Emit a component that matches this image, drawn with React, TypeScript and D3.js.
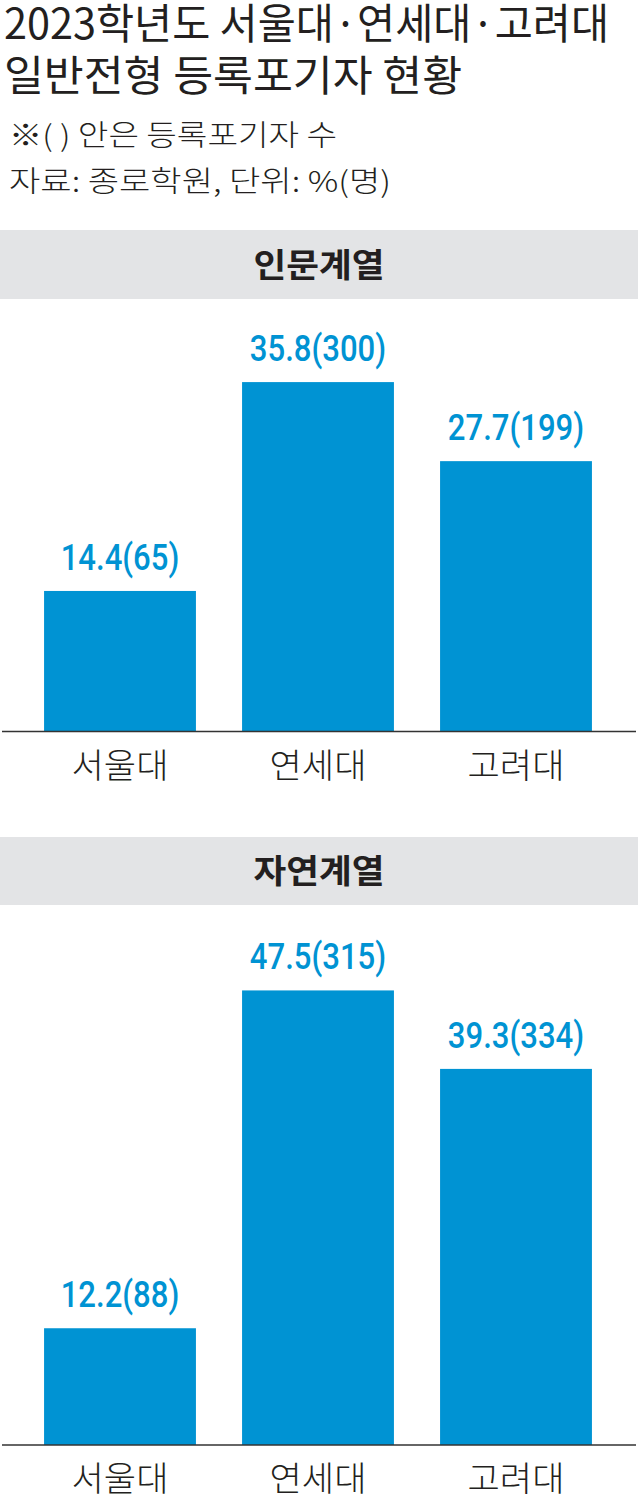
import React, { useRef, useEffect } from "react";
import * as d3 from "d3";

const universities = ["서울대", "연세대", "고려대"];
const humanitiesRate = [14.4, 35.8, 27.7];
const humanitiesCount = [65, 300, 199];
const scienceRate = [12.2, 47.5, 39.3];
const scienceCount = [88, 315, 334];
const panelTitles = ["인문계열", "자연계열"];
const titleLines = ["2023학년도 서울대·연세대·고려대", "일반전형 등록포기자 현황"];
const noteLines = ["※( ) 안은 등록포기자 수", "자료: 종로학원, 단위: %(명)"];

const W = 638;
const H = 1500;
const KR = "'Noto Sans CJK KR', 'Noto Sans', sans-serif";
const NUM = "Roboto, 'Noto Sans', sans-serif";
const BLUE = "#0093d3";
const INK = "#231f20";

// squeeze text horizontally to mimic the condensed newspaper font
const squeeze = (sel, factor) => {
  sel.each(function () {
    const w = this.getComputedTextLength();
    d3.select(this)
      .attr("textLength", w * factor)
      .attr("lengthAdjust", "spacingAndGlyphs");
  });
};

const fitTo = (sel, width) =>
  sel.attr("textLength", width).attr("lengthAdjust", "spacingAndGlyphs");

const App = () => {
  const svgRef = useRef();

  useEffect(() => {
    const svg = d3.select(svgRef.current);
    svg.selectAll("*").remove();

    // title + notes
    const titleWidths = [605, 458];
    svg
      .selectAll(".title")
      .data(titleLines)
      .join("text")
      .attr("class", "title")
      .attr("x", 4)
      .attr("y", (d, i) => 39 + i * 52)
      .attr("font-family", KR)
      .attr("font-size", 42)
      .attr("font-weight", 400)
      .attr("fill", INK)
      .text(d => d)
      .each(function (d, i) {
        fitTo(d3.select(this), titleWidths[i]);
      });

    const noteWidths = [328, 382];
    svg
      .selectAll(".note")
      .data(noteLines)
      .join("text")
      .attr("class", "note")
      .attr("x", 9)
      .attr("y", (d, i) => 146 + i * 46)
      .attr("font-family", KR)
      .attr("font-size", 29)
      .attr("font-weight", 300)
      .attr("fill", INK)
      .text(d => d)
      .each(function (d, i) {
        fitTo(d3.select(this), noteWidths[i]);
      });

    const panels = [
      { title: panelTitles[0], rate: humanitiesRate, count: humanitiesCount, bandTop: 230, bandBottom: 299, baseline: 731.5, perUnit: 9.76 },
      { title: panelTitles[1], rate: scienceRate, count: scienceCount, bandTop: 837, bandBottom: 905, baseline: 1445, perUnit: 9.57 },
    ];

    const xScale = d3
      .scaleBand()
      .domain(universities)
      .range([21, 615])
      .paddingInner(0.233)
      .paddingOuter(0.1165);

    panels.forEach((p, pi) => {
      const g = svg.append("g").attr("class", `panel-${pi}`);

      g.append("rect")
        .attr("x", 0)
        .attr("y", p.bandTop)
        .attr("width", W)
        .attr("height", p.bandBottom - p.bandTop)
        .attr("fill", "#e3e4e6");

      g.append("text")
        .attr("x", W / 2)
        .attr("y", (p.bandTop + p.bandBottom) / 2 + 12)
        .attr("text-anchor", "middle")
        .attr("font-family", KR)
        .attr("font-size", 33)
        .attr("font-weight", 700)
        .attr("fill", INK)
        .text(p.title)
        .call(fitTo, 131);

      const yScale = d3
        .scaleLinear()
        .domain([0, 50])
        .range([p.baseline, p.baseline - 50 * p.perUnit]);

      const data = universities.map((u, i) => ({ u, rate: p.rate[i], count: p.count[i] }));

      g.selectAll(".bar")
        .data(data)
        .join("rect")
        .attr("class", "bar")
        .attr("x", d => xScale(d.u))
        .attr("width", xScale.bandwidth())
        .attr("y", d => yScale(d.rate))
        .attr("height", d => p.baseline - yScale(d.rate))
        .attr("fill", BLUE);

      g.selectAll(".value")
        .data(data)
        .join("text")
        .attr("class", "value")
        .attr("x", d => xScale(d.u) + xScale.bandwidth() / 2)
        .attr("y", d => yScale(d.rate) - 21)
        .attr("text-anchor", "middle")
        .attr("font-family", NUM)
        .attr("font-size", 37)
        .attr("font-weight", 500)
        .attr("fill", BLUE)
        .text(d => `${d.rate.toFixed(1)}(${d.count})`)
        .call(squeeze, 0.84);

      g.append("line")
        .attr("x1", 2)
        .attr("x2", 636)
        .attr("y1", p.baseline)
        .attr("y2", p.baseline)
        .attr("stroke", "#333")
        .attr("stroke-width", 1.5);

      g.selectAll(".cat")
        .data(universities)
        .join("text")
        .attr("class", "cat")
        .attr("x", d => xScale(d) + xScale.bandwidth() / 2)
        .attr("y", p.baseline + 46)
        .attr("text-anchor", "middle")
        .attr("font-family", KR)
        .attr("font-size", 34)
        .attr("font-weight", 300)
        .attr("fill", INK)
        .text(d => d)
        .call(fitTo, 97);
    });
  }, []);

  return (
    <div style={{ position: "absolute", left: 0, top: 0, background: "#fff" }}>
      <svg ref={svgRef} width={W} height={H} style={{ display: "block" }} />
    </div>
  );
};

export default App;
